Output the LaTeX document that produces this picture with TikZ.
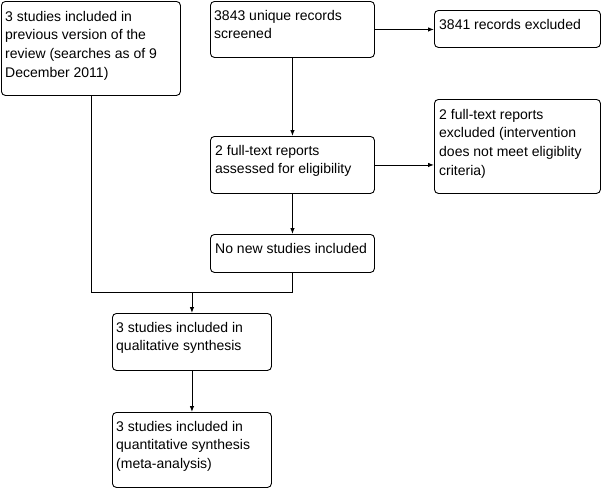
\documentclass[tikz,border=0pt]{standalone}
\usepackage{fontspec}
\setmainfont{Liberation Sans}
\usetikzlibrary{arrows.meta}
\tikzset{
  box/.style={draw, rounded corners=4pt, line width=0.9pt, anchor=north west, inner sep=0pt},
  txt/.style={anchor=north west, align=left, inner sep=0pt, font=\fontsize{14}{18.6}\selectfont},
  link/.style={line width=0.9pt},
  arr/.style={link, -{Latex[length=6pt,width=4.5pt]}}
}
\begin{document}
\begin{tikzpicture}[x=1pt,y=-1pt]
\useasboundingbox (0,0) rectangle (601,488);
% boxes
\node[box, minimum width=179pt, minimum height=94pt] (A) at (1,1) {};
\node[box, minimum width=164pt, minimum height=56pt] (B) at (210,1) {};
\node[box, minimum width=166pt, minimum height=37pt] (C) at (434,10) {};
\node[box, minimum width=166pt, minimum height=94pt] (D) at (434,99) {};
\node[box, minimum width=164pt, minimum height=57pt] (E) at (210,136) {};
\node[box, minimum width=164pt, minimum height=38pt] (F) at (210,234) {};
\node[box, minimum width=159pt, minimum height=57pt] (G) at (112,313) {};
\node[box, minimum width=159pt, minimum height=75pt] (H) at (112,412) {};
% texts
\node[txt] (tA) at (5,11) {3 studies included in\\previous version of the\\review (searches as of 9\\December 2011)};
\node[txt] (tB) at (214,10) {3843 unique records\\screened};
\node[txt] (tC) at (439,19) {3841 records excluded};
\node[txt] (tD) at (439,109) {2 full-text reports\\excluded (intervention\\does not meet eligiblity\\criteria)};
\node[txt] (tE) at (215,145) {2 full-text reports\\assessed for eligibility};
\node[txt] (tF) at (215,243) {No new studies included};
\node[txt] (tG) at (116,322) {3 studies included in\\qualitative synthesis};
\node[txt] (tH) at (116,421) {3 studies included in\\quantitative synthesis\\(meta-analysis)};
% connectors
\coordinate (m) at (0,292);
\draw[arr] (B.east) -- (B.east -| C.west);
\draw[arr] (B.south) -- (E.north);
\draw[arr] (E.east) -- (E.east -| D.west);
\draw[arr] (E.south) -- (F.north);
\draw[link] (A.south) -- (A.south |- m) -- (F.south |- m) -- (F.south);
\draw[arr] (G.north |- m) -- (G.north);
\draw[arr] (G.south) -- (H.north);
\end{tikzpicture}
\end{document}
